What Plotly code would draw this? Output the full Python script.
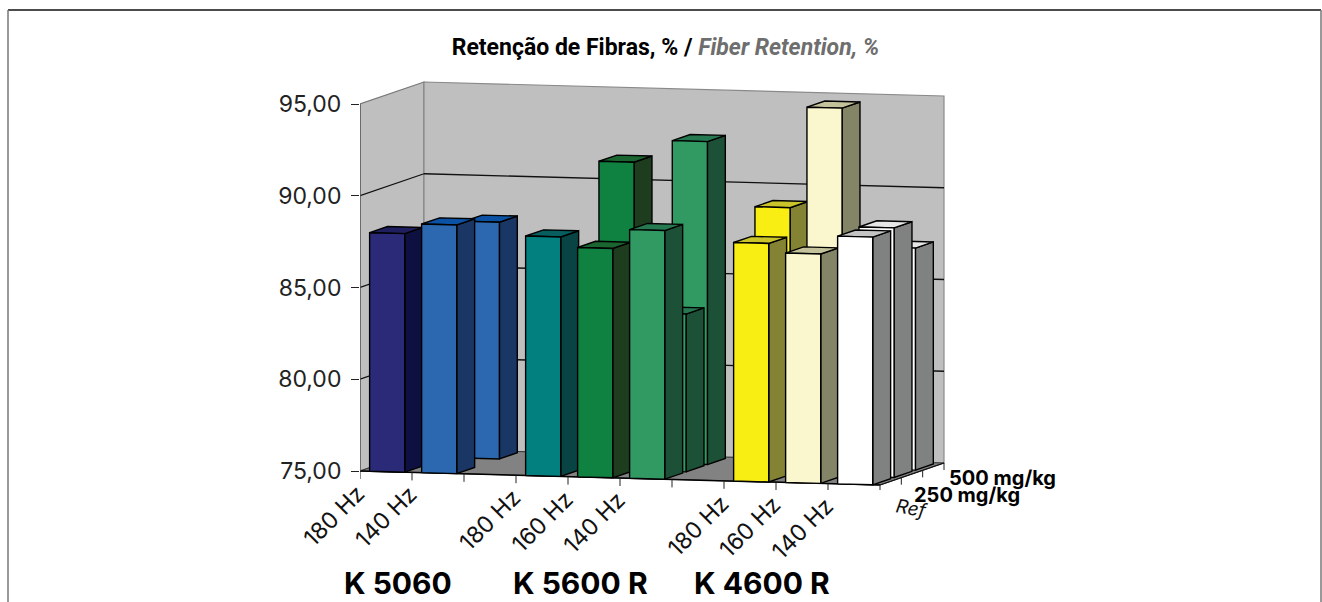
import plotly.graph_objects as go

# ---- data -------------------------------------------------------------
categories = ["180 Hz", "140 Hz", "", "180 Hz", "160 Hz", "140 Hz", "", "180 Hz", "160 Hz", "140 Hz"]
ref_values = [88.0, 88.55, None, 88.05, 87.5, 88.55, None, 88.0, 87.5, 88.5]
mg250_values = [None, None, None, None, 91.8, 83.6, None, 89.55, 95.05, 88.6]
mg500_values = [None, 87.9, None, None, None, 92.6, None, None, None, 87.1]
series_names = ["Ref", "250 mg/kg", "500 mg/kg"]
y_ticks = [75, 80, 85, 90, 95]
y_labels = ["75,00", "80,00", "85,00", "90,00", "95,00"]
groups = [("K 5060", 397.5), ("K 5600 R", 580), ("K 4600 R", 761.5)]
front_colors = ["#2B2A78", "#2C68B0", None, "#028080", "#0F8241", "#319A63", None, "#F8EE13", "#FAF7CE", "#FFFFFF"]
side_colors = ["#0F1042", "#1A3665", None, "#074443", "#1D3D1E", "#1D5137", None, "#848233", "#848467", "#808282"]
top_colors = ["#1F1F60", "#0B52A4", None, "#065E5E", "#1B6630", "#257850", None, "#C9C42A", "#C3C29A", "#C4C4C4"]

# ---- oblique projection in axis units ---------------------------------
SLOT_PX, VAL_PX = 52.0, 18.35
DX_ROW, DY_ROW, DY_SLOT = 64 / 3, 22 / 3, 1.4
BAR_L, BAR_R, BAR_D = 0.185, 0.86, 0.84
BASE = 75


def P(c, d, v):
    return c + d * DX_ROW / SLOT_PX, v - c * DY_SLOT / VAL_PX + d * DY_ROW / VAL_PX


fig = go.Figure()


def poly(points, fill, line="#000000", width=1.4):
    xs, ys = zip(*[P(*p) for p in points + points[:1]])
    fig.add_trace(go.Scatter(x=xs, y=ys, mode="lines", fill="toself", fillcolor=fill,
                             line=dict(color=line, width=width), hoverinfo="skip", showlegend=False))


def seg(a, b, color, width=1.3):
    xs, ys = zip(P(*a), P(*b))
    fig.add_trace(go.Scatter(x=xs, y=ys, mode="lines", line=dict(color=color, width=width),
                             hoverinfo="skip", showlegend=False))


N, R = len(categories), len(series_names)
top = y_ticks[-1]
poly([(0, 0, BASE), (0, R, BASE), (0, R, top), (0, 0, top)], "#BFBFBF", "#777777", 1.2)
poly([(0, R, BASE), (N, R, BASE), (N, R, top), (0, R, top)], "#BFBFBF", "#8A8A8A", 1.2)
poly([(0, 0, BASE), (N, 0, BASE), (N, R, BASE), (0, R, BASE)], "#828282", "#333333", 1)
for v in y_ticks[1:-1]:
    seg((0, 0, v), (0, R, v), "#111111")
    seg((0, R, v), (N, R, v), "#111111")
seg((0, 0, BASE), (N, 0, BASE), "#000000", 1.5)
seg((N, 0, BASE), (N, R, BASE), "#111111", 1.3)
seg((0, 0, BASE), (0, 0, top), "#555555", 1.3)
for c in range(N + 1):
    xs, ys = P(c, 0, BASE)
    fig.add_trace(go.Scatter(x=[xs, xs], y=[ys, ys - 8 / VAL_PX], mode="lines",
                             line=dict(color="#222222", width=1), hoverinfo="skip", showlegend=False))
for d in range(1, R + 1):
    xs, ys = P(N, d, BASE)
    fig.add_trace(go.Scatter(x=[xs, xs], y=[ys, ys - 7 / VAL_PX], mode="lines",
                             line=dict(color="#222222", width=1), hoverinfo="skip", showlegend=False))

rows = [ref_values, mg250_values, mg500_values]
for d in range(R - 1, -1, -1):
    for c, v in enumerate(rows[d]):
        if v is None:
            continue
        l, r = c + BAR_L, c + BAR_R
        d0, d1 = d, d + BAR_D
        poly([(r, d0, BASE), (r, d1, BASE), (r, d1, v), (r, d0, v)], side_colors[c])
        tc = top_colors[c] if not (c == 9 and d > 0) else "#E6E6E6"
        poly([(l, d0, v), (r, d0, v), (r, d1, v), (l, d1, v)], tc)
        poly([(l, d0, BASE), (r, d0, BASE), (r, d0, v), (l, d0, v)], front_colors[c])

ann = []
SANS = "Inter, Liberation Sans, Arial, sans-serif"
for c, name in enumerate(categories):
    if name:
        x, y = P(c, 0, BASE)
        ann.append(dict(x=x, y=y, xref="x", yref="y", text=name, showarrow=False, textangle=-45,
                        xanchor="center", yanchor="middle", xshift=-26, yshift=-45,
                        font=dict(family=SANS, size=23, color="#111111")))
series_shift = [(32, -23), (11, -17), (24, -8)]
for i, (name, sz) in enumerate(zip(series_names, [19, 20, 20])):
    x, y = P(N, i, BASE)
    if i == 0:
        ann.append(dict(x=x, y=y, xref="x", yref="y", text="<i>Ref</i>", showarrow=False, textangle=10,
                        xanchor="center", yanchor="middle", xshift=series_shift[i][0], yshift=series_shift[i][1],
                        font=dict(family=SANS, size=sz, color="#111111")))
    else:
        ann.append(dict(x=x, y=y, xref="x", yref="y", text="<b>%s</b>" % name, showarrow=False,
                        xanchor="left", yanchor="middle", xshift=series_shift[i][0], yshift=series_shift[i][1],
                        font=dict(family=SANS, size=sz, color="#000000")))
for name, px in groups:
    ann.append(dict(x=(px - 360) / SLOT_PX, y=BASE, xref="x", yref="y", text="<b>%s</b>" % name, showarrow=False,
                    xanchor="center", yanchor="middle", yshift=-112,
                    font=dict(family=SANS, size=30, color="#000000")))

title_text = ("<b>Retenção de Fibras, % / </b>"
              "<span style='color:#6E6E6E'><b><i>Fiber Retention, %</i></b></span>")

fig.update_layout(
    width=1322, height=602, autosize=False, paper_bgcolor="white", plot_bgcolor="rgba(0,0,0,0)",
    margin=dict(l=360, r=362, t=80, b=112), showlegend=False,
    title=dict(text=title_text, xref="container", yref="container", x=665.5 / 1322, y=1 - 47 / 602,
               xanchor="center", yanchor="middle",
               font=dict(family="Roboto, Liberation Sans, Arial", size=23, weight=900, color="#000000")),
    xaxis=dict(visible=False, range=[0, 600 / SLOT_PX], fixedrange=True),
    yaxis=dict(range=[BASE - 19 / VAL_PX, BASE + 391 / VAL_PX], tickvals=y_ticks, ticktext=y_labels,
               ticks="outside", ticklen=8, tickcolor="#222222", tickwidth=1, showgrid=False, zeroline=False,
               showline=False, ticklabelstandoff=5, fixedrange=True,
               tickfont=dict(family=SANS, size=23, color="#222222")),
    annotations=ann,
    shapes=[
        dict(type="line", xref="paper", yref="paper", x0=-352 / 600, x1=(1321 - 360) / 600,
             y0=(602 - 112 - 10) / 410, y1=(602 - 112 - 10) / 410, line=dict(color="#111111", width=1.5)),
        dict(type="line", xref="paper", yref="paper", x0=-352 / 600, x1=-352 / 600,
             y0=(602 - 112 - 10) / 410, y1=-112 / 410, line=dict(color="#777777", width=1.5)),
        dict(type="line", xref="paper", yref="paper", x0=(1321 - 360) / 600, x1=(1321 - 360) / 600,
             y0=(602 - 112 - 10) / 410, y1=-112 / 410, line=dict(color="#777777", width=1.5)),
    ],
)
fig.write_html("out.html", config=dict(displayModeBar=False),
               post_script="document.body.style.margin='0';document.body.style.overflow='hidden';")
